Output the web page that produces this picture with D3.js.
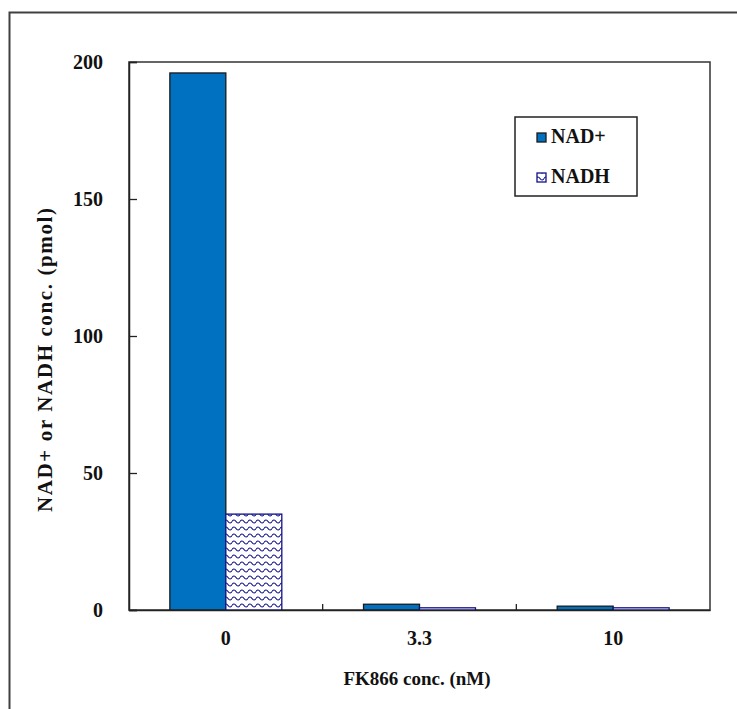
<!DOCTYPE html>
<html><head><meta charset="utf-8">
<script src="https://cdn.jsdelivr.net/npm/d3@7"></script>
<style>body{margin:0;background:#fff}svg{display:block}</style>
</head><body>
<svg id="c" width="737" height="709"></svg>
<script>
const categories = ["0", "3.3", "10"];
const seriesNames = ["NAD+", "NADH"];
const nadPlus = [196, 2.1, 1.4];
const nadh = [35, 0.8, 0.8];
const yTicks = [0, 50, 100, 150, 200];

const svg = d3.select("#c");
const font = "'Liberation Serif', 'Times New Roman', serif";
const m = {left: 129, top: 62, right: 710, bottom: 610};

// outer frame
svg.append("rect").attr("x", 9.5).attr("y", 12.5).attr("width", 760).attr("height", 760)
  .attr("fill", "none").attr("stroke", "#404040").attr("stroke-width", 2);

const defs = svg.append("defs");
const pat = defs.append("pattern").attr("id", "wave").attr("patternUnits", "userSpaceOnUse")
  .attr("width", 8).attr("height", 7);
pat.append("rect").attr("width", 8).attr("height", 7).attr("fill", "#fff");
pat.append("path").attr("d", "M0,3.5 Q2,0.5 4,3.5 T8,3.5").attr("fill", "none")
  .attr("stroke", "#10108a").attr("stroke-width", 1.2);

const x0 = d3.scaleBand().domain(categories).range([m.left, m.right]).padding(0);
const x1 = d3.scaleBand().domain(seriesNames).range([0, x0.bandwidth()]).paddingInner(0).paddingOuter(0.73);
const y = d3.scaleLinear().domain([0, 200]).range([m.bottom, m.top]);

// plot frame
svg.append("rect").attr("x", m.left).attr("y", m.top).attr("width", m.right - m.left)
  .attr("height", m.bottom - m.top).attr("fill", "none").attr("stroke", "#333").attr("stroke-width", 1.5);

const data = categories.map((c, i) => ({c, vals: [nadPlus[i], nadh[i]]}));
const styles = [
  {fill: "#0070C0", stroke: "#1a1a1a"},
  {fill: "url(#wave)", stroke: "#10108a"}
];
const g = svg.append("g");
data.forEach(d => {
  d.vals.forEach((v, j) => {
    const s = styles[j];
    g.append("rect")
      .attr("x", x0(d.c) + x1(seriesNames[j]))
      .attr("y", y(v))
      .attr("width", x1.bandwidth())
      .attr("height", y(0) - y(v))
      .attr("fill", s.fill).attr("stroke", s.stroke).attr("stroke-width", 1.3);
  });
});

// y axis
const yAxis = d3.axisLeft(y).tickValues(yTicks).tickSize(-8).tickPadding(26).tickFormat(d3.format("d"));
const ya = svg.append("g").attr("transform", `translate(${m.left},0)`).call(yAxis);
ya.select(".domain").attr("stroke", "#222").attr("stroke-width", 1.5);
ya.selectAll(".tick line").attr("stroke", "#222").attr("stroke-width", 1.3);
ya.selectAll("text").attr("font-family", font).attr("font-weight", "bold").attr("font-size", 20).attr("fill", "#111");

// x axis
const xAxis = d3.axisBottom(x0).tickSize(0).tickPadding(21);
const xa = svg.append("g").attr("transform", `translate(0,${m.bottom})`).call(xAxis);
xa.select(".domain").attr("stroke", "#222").attr("stroke-width", 1.5);
xa.selectAll("text").attr("font-family", font).attr("font-weight", "bold").attr("font-size", 20).attr("fill", "#111");
// category separator ticks
categories.slice(1).forEach(c => {
  svg.append("line").attr("x1", x0(c)).attr("x2", x0(c)).attr("y1", m.bottom).attr("y2", m.bottom - 6)
    .attr("stroke", "#222").attr("stroke-width", 1.3);
});

// titles
svg.append("text").attr("x", 417).attr("y", 685).attr("text-anchor", "middle")
  .attr("font-family", font).attr("font-weight", "bold").attr("font-size", 19).attr("fill", "#111")
  .text("FK866 conc. (nM)");
svg.append("text").attr("transform", "translate(52,360) rotate(-90)").attr("text-anchor", "middle")
  .attr("font-family", font).attr("font-weight", "bold").attr("font-size", 21).attr("fill", "#111")
  .attr("textLength", 304).attr("lengthAdjust", "spacing")
  .text("NAD+ or NADH conc. (pmol)");

// legend
const lg = svg.append("g");
lg.append("rect").attr("x", 515).attr("y", 117).attr("width", 122).attr("height", 79)
  .attr("fill", "#fff").attr("stroke", "#222").attr("stroke-width", 1.5);
seriesNames.forEach((n, j) => {
  const base = 143 + j * 40;
  lg.append("rect").attr("x", 537).attr("y", base - 10).attr("width", 9).attr("height", 9)
    .attr("fill", j === 0 ? "#0070C0" : "url(#wave)").attr("stroke", j === 0 ? "#1a1a1a" : "#10108a").attr("stroke-width", 1.3);
  lg.append("text").attr("x", 551).attr("y", base).attr("font-family", font).attr("font-weight", "bold")
    .attr("font-size", 20).attr("fill", "#111").text(n);
});
</script>
</body></html>
